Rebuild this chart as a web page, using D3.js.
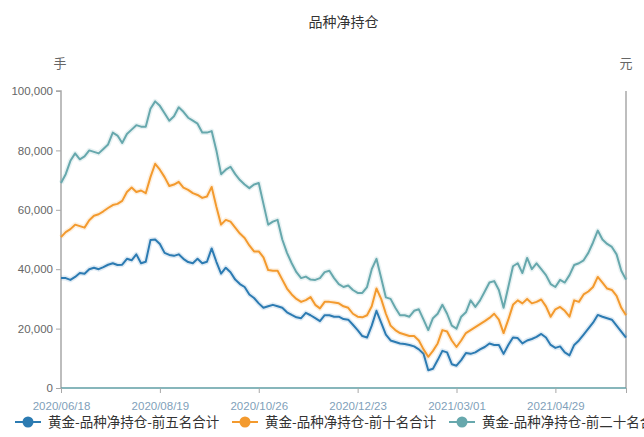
<!DOCTYPE html>
<html>
<head>
<meta charset="utf-8">
<script src="https://cdn.jsdelivr.net/npm/d3@7"></script>
<style>
  html, body { margin: 0; padding: 0; background: #fff; }
  svg { display: block; }
</style>
</head>
<body>
<svg id="chart" width="644" height="437"></svg>
<script>
const title = "品种净持仓";
const leftUnit = "手";
const rightUnit = "元";
const seriesNames = ["黄金-品种净持仓-前五名合计", "黄金-品种净持仓-前十名合计", "黄金-品种净持仓-前二十名合计"];
const seriesColors = ["#2c7bb2", "#f39a2e", "#67a8ad"];
const tickLabels = ["2020/06/18", "2020/08/19", "2020/10/26", "2020/12/23", "2021/03/01", "2021/04/29"];
const tickIndex = [0, 21, 42, 63, 84, 105];
const yTicks = [0, 20000, 40000, 60000, 80000, 100000];

// values in thousands of 手 (sampled every other trading day)
const top5 = [37,37,36.4,37.4,38.7,38.5,40,40.5,40,40.7,41.5,42,41.4,41.5,43.5,43,45,42,42.5,49.8,
  50,48.5,45.5,44.8,44.5,45,43.5,42.4,42,43.5,42,42.5,47,42.5,38.5,40.5,39,36.5,35,34,
  31.5,30.3,28.5,27,27.5,28,27.5,27,25.5,24.6,23.8,23.5,25.3,24.5,23.5,22.5,24.5,24.5,24,24,
  23.2,23,21.3,19.5,17.5,17,21,26,22,18,16,15.5,15,14.8,14.5,14,13,11.5,6,6.5,
  9.4,12.5,12,8,7.5,9.4,11.8,11.5,12,13,13.8,15,14.5,14.5,11.5,14.5,17,16.8,15,16,
  16.5,17.2,18.2,17,14.5,13.5,14,12,11,14.5,16,18,20,22,24.6,24,23.5,23,21,19,17];
const top10 = [50.8,52.5,53.5,55,54.5,54,56.5,58,58.5,59.5,60.6,61.6,62,63,66,67.5,66,66.5,65.6,71,
  75.5,73.5,71,68,68.5,69.4,67.5,66.7,65.6,65,64,64.5,67.7,61,55,56.6,56,54,52,50.5,
  48,46,46,44,39.7,39.5,39.5,36.5,33.5,31.5,30,29,29.6,30.6,28,26.8,29,29,28.8,28.5,
  27.5,27,25,24,23.8,24.5,27.5,33.5,30,25,21,19.5,18.5,18,17.5,17.5,16,13,10.5,12.5,
  15,19.5,19,16,13.8,16,18.5,19.5,20.5,21.5,22.5,23.6,25,23,18.5,23,28,29.5,28.5,30,
  28.5,29,29.8,27.5,24,26.5,27.3,26,24,29.5,29,31.5,32.5,34,37.4,35.5,33.5,33,31,27,24.5];
const top20 = [69,72,76.5,79,77,78,80,79.5,79,80.5,82,86,85,82.5,85.5,87,88.5,88,88,94,
  96.5,95,92.5,90,91.5,94.5,93,91,90,89,86,86,86.5,80,72,73.5,74.5,72,70,68.5,
  67.3,68.5,69,62,55,56,56.6,50,45.5,42,39,37,37.5,36.5,36.4,37,39,39.5,37,35,
  34,34.5,33,32,32,34,40,43.5,37,30.5,30,27,24.5,24.5,24,26,26.5,23,19.5,23.5,
  25,28,25,21,20,24,25.5,29.5,27.3,29.5,32.5,35.5,36,33,27,34,41,42,38.7,43.8,
  40,42,40,38,35,34,36.4,35.5,38,41.4,42,43,45.5,49,53,50,48.5,47.5,45,39.5,36.5];
const series = [top5, top10, top20];

const svg = d3.select("#chart");
const margin = { left: 61, right: 18, top: 91, bottom: 49 };
const W = 644, H = 437;
const x = d3.scaleLinear().domain([0, top5.length - 1]).range([margin.left, W - margin.right]);
const y = d3.scaleLinear().domain([0, 100000]).range([H - margin.bottom, margin.top]);
const cjk = "'Noto Sans CJK SC', 'Noto Sans', sans-serif";
const lat = "'Liberation Sans', Arial, sans-serif";

// title
svg.append("text").attr("x", (x.range()[0] + x.range()[1]) / 2).attr("y", 27)
  .attr("text-anchor", "middle").attr("font-family", cjk).attr("font-size", 14)
  .attr("fill", "#333").text(title);
svg.append("text").attr("x", 60).attr("y", 68).attr("text-anchor", "middle")
  .attr("font-family", cjk).attr("font-size", 13).attr("fill", "#666").text(leftUnit);
svg.append("text").attr("x", 626).attr("y", 68).attr("text-anchor", "middle")
  .attr("font-family", cjk).attr("font-size", 13).attr("fill", "#666").text(rightUnit);

// left axis
const yAxis = d3.axisLeft(y).tickValues(yTicks).tickSize(5).tickPadding(3)
  .tickFormat(d3.format(","));
const gy = svg.append("g").attr("transform", `translate(${margin.left},0)`).call(yAxis);
gy.select(".domain").attr("stroke", "#a8a8a8").attr("stroke-width", 1.5).attr("d", `M-5,${y(100000)}H0V${y(0)}`);
gy.selectAll(".tick line").attr("stroke", "#a8a8a8");
gy.selectAll(".tick text").attr("font-family", lat).attr("font-size", 11.5).attr("fill", "#666");

// right axis line
svg.append("line").attr("x1", W - margin.right).attr("x2", W - margin.right)
  .attr("y1", y(100000)).attr("y2", y(0)).attr("stroke", "#a8a8a8").attr("stroke-width", 1.5);

// x axis
const xAxis = d3.axisBottom(x).tickValues(tickIndex.concat([top5.length - 1])).tickSize(5).tickPadding(9)
  .tickFormat((d) => { const k = tickIndex.indexOf(d); return k >= 0 ? tickLabels[k] : ""; });
const gx = svg.append("g").attr("transform", `translate(0,${y(0)})`).call(xAxis);
gx.select(".domain").attr("stroke", "#5f9ea5").attr("stroke-width", 1.5).attr("d", `M${x.range()[0]},0H${x.range()[1]}`);
gx.selectAll(".tick line").attr("stroke", "#a8a8a8");
gx.selectAll(".tick text").attr("font-family", lat).attr("font-size", 11.5).attr("fill", "#7f9fba");

// lines
const line = d3.line().x((d, i) => x(i)).y(d => y(d * 1000));
series.forEach((s, k) => {
  svg.append("path").datum(s).attr("d", line).attr("fill", "none")
    .attr("stroke", seriesColors[k]).attr("stroke-opacity", 0.15).attr("stroke-width", 5)
    .attr("stroke-linejoin", "round");
  svg.append("path").datum(s).attr("d", line).attr("fill", "none")
    .attr("stroke", seriesColors[k]).attr("stroke-width", 2)
    .attr("stroke-linejoin", "round");
});

// legend
const legendY = 422;
const legendX = [28, 245, 462];
seriesNames.forEach((name, k) => {
  const g = svg.append("g").attr("transform", `translate(${legendX[k]},${legendY})`);
  g.append("line").attr("x1", -13).attr("x2", 13).attr("stroke", seriesColors[k]).attr("stroke-width", 2);
  g.append("circle").attr("r", 5.5).attr("fill", seriesColors[k]);
  g.append("text").attr("x", 20).attr("dy", "0.36em").attr("font-family", cjk)
    .attr("font-size", 13.5).attr("fill", "#333").text(name);
});
</script>
</body>
</html>
